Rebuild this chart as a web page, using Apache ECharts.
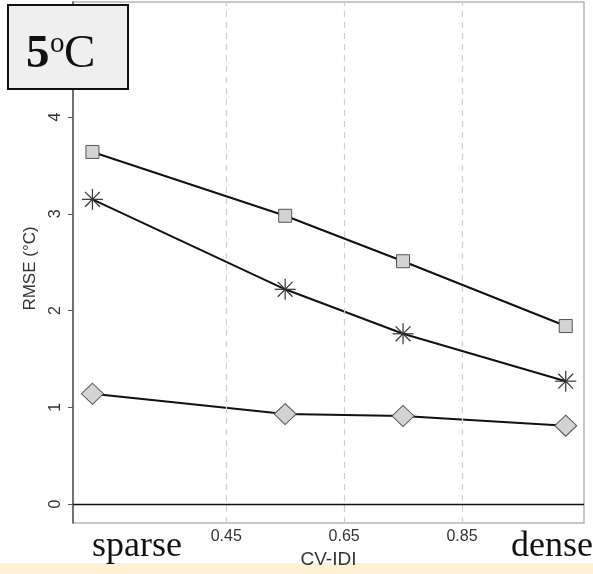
<!DOCTYPE html>
<html>
<head>
<meta charset="utf-8">
<script src="https://cdn.jsdelivr.net/npm/echarts@6/dist/echarts.min.js"></script>
<style>html,body{margin:0;padding:0;background:#fff;}#c{width:593px;height:574px;}</style>
</head>
<body>
<div id="c"></div>
<script>
// Data
var xValues = [0.223, 0.55, 0.75, 1.026];
var squareVals = [3.64, 2.98, 2.51, 1.84];
var starVals = [3.15, 2.22, 1.76, 1.27];
var diamondVals = [1.14, 0.93, 0.91, 0.81];
var xTicks = [0.45, 0.65, 0.85];
var yTicks = [0, 1, 2, 3, 4];
var xTitle = 'CV-IDI';
var yTitle = 'RMSE (°C)';

function pairs(vals) { return xValues.map(function (x, i) { return [x, vals[i]]; }); }

var chart = echarts.init(document.getElementById('c'), null, {renderer: 'canvas'});
var font = 'Liberation Sans';
var option = {
  animation: false,
  backgroundColor: '#fff',
  grid: {left: 73, right: 9, top: 2, bottom: 51, show: true, borderColor: '#b5b5b5', borderWidth: 1.5, backgroundColor: 'transparent'},
  xAxis: {
    type: 'value', min: 0.19, max: 1.057,
    name: xTitle, nameLocation: 'middle', nameGap: 21,
    nameTextStyle: {fontFamily: font, fontSize: 19, color: '#333'},
    axisLine: {show: false},
    axisTick: {show: true, customValues: xTicks, length: 5, lineStyle: {color: '#c0c0c0'}},
    splitLine: {show: false},
    axisLabel: {customValues: xTicks, fontFamily: font, fontSize: 16, color: '#333', margin: 6,
      formatter: function (v) { return v.toFixed(2); }}
  },
  yAxis: {
    type: 'value', min: -0.196, max: 5.19,
    name: yTitle, nameLocation: 'middle', nameGap: 34, nameRotate: 90,
    nameTextStyle: {fontFamily: font, fontSize: 17, color: '#333', padding: [0, 12, 0, 0]},
    axisLine: {show: true, lineStyle: {color: '#555', width: 1.5}},
    axisTick: {show: true, customValues: yTicks, length: 5, lineStyle: {color: '#555'}},
    splitLine: {show: false},
    axisLabel: {customValues: yTicks, rotate: 90, fontFamily: font, fontSize: 16, color: '#333', margin: 9}
  },
  series: [
    {
      type: 'line', data: pairs(squareVals), symbol: 'rect', symbolSize: 13,
      itemStyle: {color: '#d3d3d3', borderColor: '#555', borderWidth: 1},
      lineStyle: {color: '#111', width: 2}, z: 3,
      markLine: {
        silent: true, symbol: 'none', label: {show: false}, animation: false,
        data: xTicks.map(function (t) { return {xAxis: t, lineStyle: {color: '#cfcfcf', type: [6, 5], width: 1.2}}; })
          .concat([{yAxis: 0, lineStyle: {color: '#111', type: 'solid', width: 1.3}}])
      }
    },
    {
      type: 'line', data: pairs(starVals), symbol: 'none',
      lineStyle: {color: '#111', width: 2}, z: 3
    },
    {
      type: 'custom', data: pairs(starVals), z: 4,
      renderItem: function (params, api) {
        var p = api.coord([api.value(0), api.value(1)]);
        var r = 10.5, children = [];
        for (var k = 0; k < 4; k++) {
          var a = k * Math.PI / 4;
          var dx = Math.cos(a) * r, dy = Math.sin(a) * r;
          children.push({type: 'line', shape: {x1: p[0] - dx, y1: p[1] - dy, x2: p[0] + dx, y2: p[1] + dy},
            style: {stroke: '#333', lineWidth: 1.2}});
        }
        return {type: 'group', children: children};
      }
    },
    {
      type: 'line', data: pairs(diamondVals), symbol: 'diamond', symbolSize: [22, 21],
      itemStyle: {color: '#d3d3d3', borderColor: '#555', borderWidth: 1},
      lineStyle: {color: '#111', width: 2}, z: 3
    }
  ],
  graphic: [
    {type: 'rect', left: 0, top: 563, shape: {width: 593, height: 11}, style: {fill: '#fdf1d6'}, z: -10},
    {type: 'rect', shape: {x: 8, y: 5, width: 120, height: 84}, style: {fill: '#efefef', stroke: '#111', lineWidth: 2}, z: 20},
    {type: 'text', x: 26, y: 31, style: {text: '5', font: 'bold 47px "Liberation Serif"', fill: '#111', textVerticalAlign: 'top'}, z: 21},
    {type: 'text', x: 50, y: 30, style: {text: 'o', font: '29px "Liberation Serif"', fill: '#111', textVerticalAlign: 'top'}, z: 21},
    {type: 'text', x: 64, y: 31, style: {text: 'C', font: '47px "Liberation Serif"', fill: '#111', textVerticalAlign: 'top'}, z: 21},
    {type: 'text', x: 92, y: 529, style: {text: 'sparse', font: '36px "Liberation Serif"', fill: '#111', textVerticalAlign: 'top'}, z: 21},
    {type: 'text', x: 593, y: 529, style: {text: 'dense', font: '36px "Liberation Serif"', fill: '#111', textAlign: 'right', textVerticalAlign: 'top'}, z: 21}
  ]
};
chart.setOption(option);
</script>
</body>
</html>
